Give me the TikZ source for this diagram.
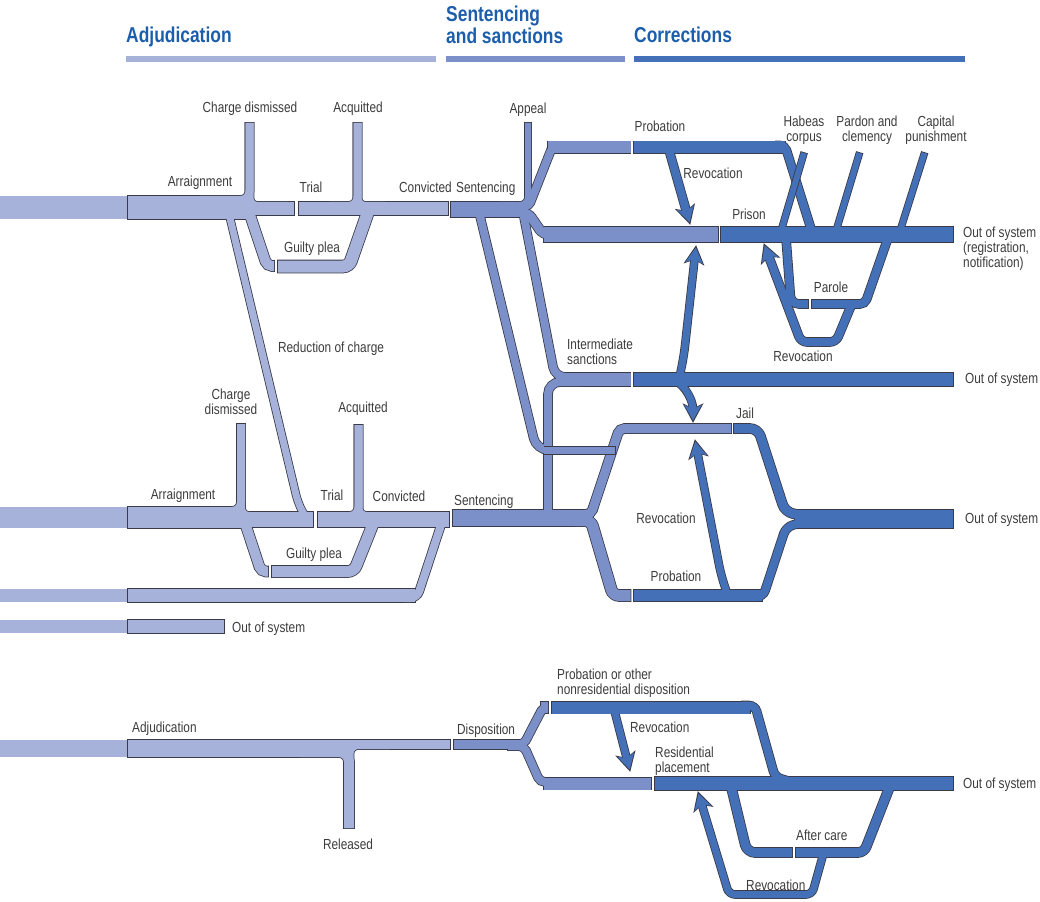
\documentclass[tikz,border=0pt]{standalone}
\usepackage{fontspec}
\setmainfont{Liberation Sans}[FakeStretch=0.81]
\usetikzlibrary{arrows.meta}
\definecolor{lightflow}{HTML}{A6B2DA}
\definecolor{midflow}{HTML}{7B8FC9}
\definecolor{darkflow}{HTML}{4370B6}
\definecolor{rimgray}{HTML}{3A3A48}
\definecolor{headblue}{HTML}{1C5EAB}
\definecolor{labelgray}{HTML}{3C3C3C}

\pgfdeclarelayer{rim}
\pgfsetlayers{rim,main}

\tikzset{
  rimline/.style={draw=rimgray, shorten <=-0.8pt, shorten >=-0.8pt},
  lab/.style={inner sep=0pt, text=labelgray, font=\fontsize{14.6}{15}\selectfont, anchor=base, align=center},
  labl/.style={lab, anchor=base west, align=left},
  head/.style={inner sep=0pt, text=headblue, font=\fontsize{21.5}{22}\selectfont\bfseries, anchor=base west, align=left},
}

% band: [options]{width}{colour}{path}
\newcommand{\band}[4][]{%
  \begin{pgfonlayer}{rim}
    \draw[rimline, line width=#2+1.6pt, #1] #4;
  \end{pgfonlayer}
  \draw[draw=#3, line width=#2, #1] #4;
}
% band that keeps its own rim on top
\newcommand{\bandtop}[4][]{%
  \draw[rimline, line width=#2+1.6pt, #1] #4;
  \draw[draw=#3, line width=#2, #1] #4;
}
% revocation arrow: [options]{width}{path}
\newcommand{\revarrow}[3][]{%
  \begin{pgfonlayer}{rim}
    \draw[rimline, line width=#2+1.6pt, -{Stealth[length=19.5pt,width=21pt,inset=5pt,line width=0pt]}, #1] #3;
  \end{pgfonlayer}
  \draw[draw=darkflow, line width=#2, shorten >=1.6pt, -{Stealth[length=15.5pt,width=17.5pt,inset=4pt,line width=0pt]}, #1] #3;
}

\begin{document}
\begin{tikzpicture}[x=1pt, y=-1pt]
\useasboundingbox (0,0) rectangle (1040,901);

% headings (multi-line labels sit on their last baseline)
\node[head] (hadj) at (126,43) {Adjudication};
\node[head] (hsent) at (446,44) {Sentencing\\and sanctions};
\node[head] (hcorr) at (634,43) {Corrections};
\fill[lightflow] (126,56) rectangle (436,62);
\fill[midflow] (446,56) rectangle (625,62);
\fill[darkflow] (634,56) rectangle (965,62);

% felony track
\fill[lightflow] (0,196) rectangle (127,219);
\band{23pt}{lightflow}{(128,207.5) -- (250,207.5)}
\band{13pt}{lightflow}{(240,208.5) -- (294,208.5)}
\band[rounded corners=9pt]{8pt}{lightflow}{(200,200) -| (249.5,123)}
\band[rounded corners=8pt]{8pt}{lightflow}{(288,206) -| (249.5,123)}
\band[rounded corners=8pt]{7pt}{lightflow}{(229,214) -- (298,503) -- (306,518)}
\band[rounded corners=5pt]{10pt}{lightflow}{(249,212) -- (267,266) -- (274,266)}
\band[rounded corners=6pt]{12pt}{lightflow}{(278,266.5) -- (349,266.5) -- (368,212)}
\band{13pt}{lightflow}{(299,208.5) -- (448,208.5)}
\band[rounded corners=9pt]{8pt}{lightflow}{(330,206) -| (357.5,123)}
\band[rounded corners=8pt]{8pt}{lightflow}{(385,206) -| (357.5,123)}
\band{15pt}{midflow}{(450.5,209.5) -- (522,209.5)}
\band[rounded corners=8pt]{6pt}{midflow}{(500,205) -| (528,123)}
\band[rounded corners=4pt]{8pt}{midflow}{(519,206) -- (529,206) -- (551,150)}
\band{12pt}{midflow}{(548,147.5) -- (630.5,147.5)}
\band[rounded corners=6pt]{9pt}{midflow}{(517,212.5) -- (528,212.5) -- (543,234.5) -- (555,234.5)}
\band{15pt}{midflow}{(544,234.5) -- (718,234.5)}
\band[rounded corners=10pt]{8pt}{midflow}{(523,212) -- (555,377) -- (590,377)}
\band[rounded corners=12pt]{8pt}{midflow}{(479,212) -- (536.5,450) -- (548,450)}
\band[rounded corners=12pt]{8pt}{midflow}{(548,515) -- (548,382) -- (580,382)}
\band{13pt}{midflow}{(556,379.5) -- (630.5,379.5)}
\band{12pt}{darkflow}{(633.5,147.5) -- (785,147.5)}
\band[rounded corners=5pt]{8pt}{darkflow}{(776,145.5) -- (785,145.5) -- (812,232)}
\bandtop{6pt}{darkflow}{(804,153) -- (781,231)}
\band{6pt}{darkflow}{(859.5,153) -- (836,231)}
\band{6pt}{darkflow}{(924.5,153) -- (900,231)}
\band{15pt}{darkflow}{(720.5,234.5) -- (953,234.5)}
\band[rounded corners=8pt]{8pt}{darkflow}{(786,238) -- (791,304) -- (808,304)}
\band[rounded corners=5pt]{8pt}{darkflow}{(812,304) -- (865,304) -- (888,238)}
\band{13pt}{darkflow}{(633.5,379.5) -- (953,379.5)}
\revarrow{8pt}{(669,150) -- (690,224)}
\revarrow[rounded corners=6pt]{8pt}{(851,306) -- (836,342) -- (801,342) -- (764,244)}
\revarrow[rounded corners=10pt]{7pt}{(679,380) -- (684,355) -- (696,246)}
\revarrow{7pt}{(679,383) .. controls (690,392) and (693,405) .. (693,422)}

% misdemeanor track
\fill[lightflow] (0,507) rectangle (127,528);
\band{21pt}{lightflow}{(128,517.5) -- (245,517.5)}
\band{15pt}{lightflow}{(235,519.5) -- (313,519.5)}
\band[rounded corners=9pt]{8pt}{lightflow}{(200,511) -| (241,424)}
\band[rounded corners=8pt]{8pt}{lightflow}{(290,516) -| (241,424)}
\band{15pt}{lightflow}{(318,519.5) -- (449,519.5)}
\band[rounded corners=9pt]{8pt}{lightflow}{(330,516) -| (358.5,425)}
\band[rounded corners=8pt]{8pt}{lightflow}{(385,516) -| (358.5,425)}
\band[rounded corners=5pt]{10pt}{lightflow}{(245,523) -- (261,571.5) -- (268,571.5)}
\band[rounded corners=6pt]{11pt}{lightflow}{(272,571.5) -- (354,571.5) -- (373,524)}
\fill[lightflow] (0,589) rectangle (127,602);
\band{13pt}{lightflow}{(128,595.5) -- (415,595.5)}
\band[rounded corners=7pt]{8pt}{lightflow}{(405,598) -- (417,598) -- (442,522)}
\fill[lightflow] (0,620) rectangle (127,633);
\band{13pt}{lightflow}{(128,626.5) -- (224,626.5)}
\band{16pt}{midflow}{(452.5,518) -- (585,518)}
\band[rounded corners=5pt]{9pt}{midflow}{(575,514.5) -- (591,514.5) -- (619.5,428.5) -- (731,428.5)}
\band[rounded corners=6pt]{11pt}{midflow}{(575,520.5) -- (591,520.5) -- (613,595.5) -- (630.5,595.5)}
\band[rounded corners=8pt]{9pt}{darkflow}{(734,428.5) -- (758,428.5) -- (785,512) -- (800,515)}
\band{11pt}{darkflow}{(633.5,595.5) -- (762,595.5)}
\band[rounded corners=7pt]{8pt}{darkflow}{(752,597) -- (763,597) -- (786,527) -- (800,523)}
\band{18pt}{darkflow}{(795,519) -- (953,519)}
\revarrow[rounded corners=10pt]{7pt}{(727,593) -- (721,575) -- (695,440)}

% crossing piece towards jail
\fill[midflow] (544,446) rectangle (615,454);
\draw[rimgray, line width=0.8pt] (544,446) -- (615,446) -- (615,454) -- (544,454);

% juvenile track
\fill[lightflow] (0,740) rectangle (127,757);
\band{17pt}{lightflow}{(128,748.5) -- (352,748.5)}
\band{9pt}{lightflow}{(340,744.5) -- (450,744.5)}
\band[rounded corners=10pt]{10pt}{lightflow}{(300,752) -| (349,828)}
\band[rounded corners=9pt]{9pt}{lightflow}{(390,744.5) -| (349,828)}
\band{9pt}{midflow}{(453.5,744.5) -- (518,744.5)}
\band[rounded corners=4pt]{8pt}{midflow}{(508,744) -- (524,744) -- (543,707.5) -- (548,707.5)}
\band{11pt}{midflow}{(541,707.5) -- (548,707.5)}
\band[rounded corners=5pt]{8pt}{midflow}{(508,746) -- (524,746) -- (540,782) -- (552,782)}
\band{12pt}{midflow}{(544,783.5) -- (651,783.5)}
\band{12pt}{darkflow}{(552,707.5) -- (750,707.5)}
\band[rounded corners=6pt]{8pt}{darkflow}{(742,705.5) -- (755,705.5) -- (775,777) -- (790,781.5)}
\band{13pt}{darkflow}{(655,783.5) -- (953,783.5)}
\band[rounded corners=8pt]{9pt}{darkflow}{(731,786) -- (747,852.5) -- (792,852.5)}
\band[rounded corners=6pt]{9pt}{darkflow}{(796,852.5) -- (864,852.5) -- (890,786)}
\revarrow{7pt}{(614,709) -- (630,771)}
\revarrow[rounded corners=6pt]{7pt}{(823,855) -- (812,894.5) -- (729,894.5) -- (698,792)}

% felony labels
\node[lab] (cdis1) at (250,113) {Charge dismissed};
\node[lab] (acq1) at (358,113) {Acquitted};
\node[lab] (arr1) at (200,187) {Arraignment};
\node[lab] (tri1) at (311,193) {Trial};
\node[lab] (gp1) at (312,252) {Guilty plea};
\node[labl] (conv1) at (399,193) {Convicted};
\node[labl] (sent1) at (456,193) {Sentencing};
\node[lab] (appeal) at (528,114) {Appeal};
\node[lab] (prob1) at (660,132) {Probation};
\node[lab] (rev1) at (713,179) {Revocation};
\node[lab] (prison) at (749,219) {Prison};
\node[lab] (habeas) at (804,142) {Habeas\\corpus};
\node[lab] (pardon) at (867,142) {Pardon and\\clemency};
\node[lab] (capital) at (936,142) {Capital\\punishment};
\node[labl] (oos1) at (963,267) {Out of system\\(registration,\\notification)};
\node[lab] (parole) at (831,292) {Parole};
\node[lab] (rev2) at (803,361) {Revocation};
\node[labl] (inter) at (567,364) {Intermediate\\sanctions};
\node[labl] (oos2) at (965,383) {Out of system};
\node[lab] (redu) at (331,352) {Reduction of charge};

% misdemeanor labels
\node[lab] (cdis2) at (231,414) {Charge\\dismissed};
\node[lab] (acq2) at (363,412) {Acquitted};
\node[lab] (arr2) at (183,499) {Arraignment};
\node[lab] (tri2) at (332,500) {Trial};
\node[lab] (conv2) at (399,501) {Convicted};
\node[labl] (sent2) at (454,505) {Sentencing};
\node[lab] (gp2) at (314,558) {Guilty plea};
\node[labl] (oos4) at (232,632) {Out of system};
\node[lab] (jail) at (745,418) {Jail};
\node[lab] (rev3) at (666,523) {Revocation};
\node[lab] (prob2) at (676,581) {Probation};
\node[labl] (oos3) at (965,523) {Out of system};

% juvenile labels
\node[labl] (adj) at (132,732) {Adjudication};
\node[lab] (released) at (348,849) {Released};
\node[labl] (disp) at (457,734) {Disposition};
\node[labl] (probo) at (557,694) {Probation or other\\nonresidential disposition};
\node[labl] (rev4) at (630,732) {Revocation};
\node[labl] (resid) at (655,772) {Residential\\placement};
\node[labl] (oos5) at (963,788) {Out of system};
\node[labl] (after) at (796,840) {After care};
\node[labl] (rev5) at (746,890) {Revocation};
\end{tikzpicture}
\end{document}
